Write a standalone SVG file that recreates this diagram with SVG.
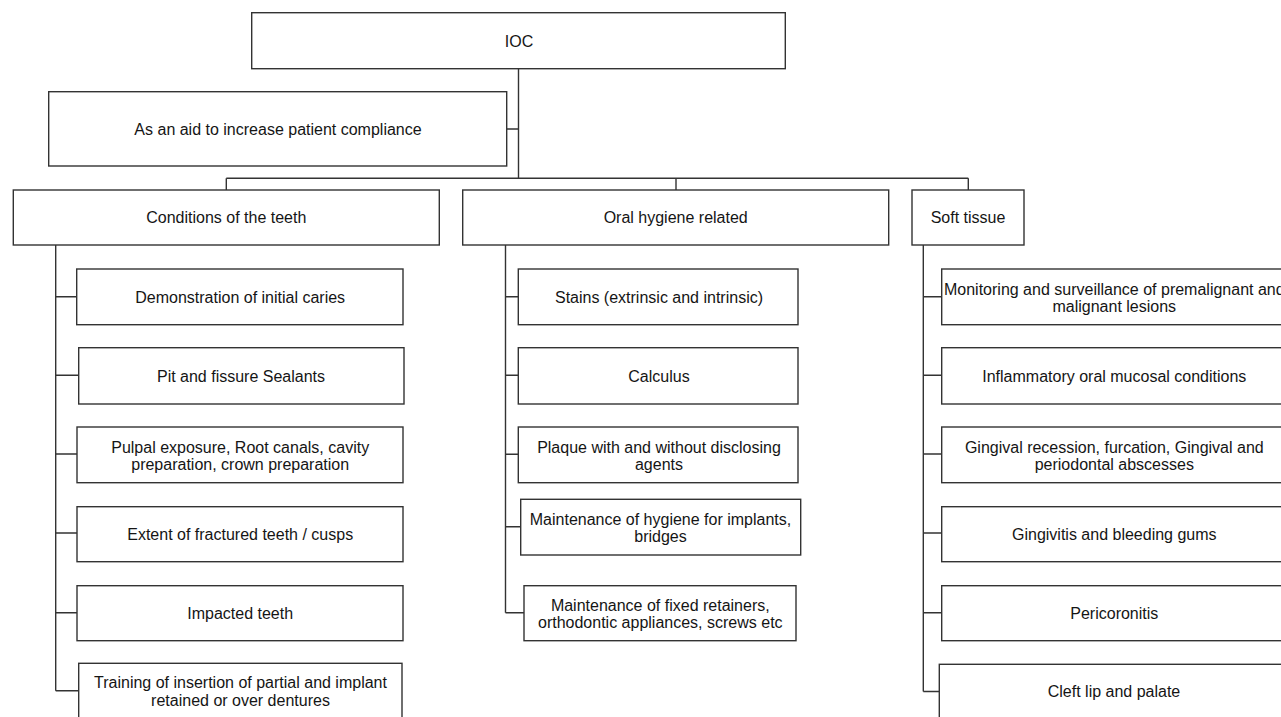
<svg xmlns="http://www.w3.org/2000/svg" width="1281" height="717" viewBox="0 0 1281 717">
<style>
.box{fill:#fff;stroke:#333;stroke-width:1.4}
.lbl{font-family:"Liberation Sans",Arial,sans-serif;font-size:16px;fill:#151515;text-anchor:middle}
.con{fill:none;stroke:#333;stroke-width:1.4}
</style>
<rect width="1281" height="717" fill="#fff"/>
<g id="connectors">
<path class="con" d="M518.5 68.7V178.3M506.7 129H518.5M226.3 178.3H968.3M226.3 178.3V190M676 178.3V190M968.3 178.3V190"/>
<path class="con" d="M55.7 245V690.7M55.7 296.7H76.7M55.7 375.3H78.7M55.7 454H77M55.7 533H77M55.7 612.7H77M55.7 690.7H78.7"/>
<path class="con" d="M505.5 245V612.7M505.5 296.7H518.3M505.5 375.3H518.3M505.5 454.3H518.3M505.5 526.7H520.7M505.5 612.7H524"/>
<path class="con" d="M923.3 245V691.5M923.3 296.7H941.7M923.3 375.3H941.7M923.3 454H941.7M923.3 533H941.7M923.3 612.7H941.7M923.3 691.5H939.3"/>
</g>
<g id="ioc"><rect class="box" x="251.7" y="12.7" width="533.6" height="56"/><text class="lbl" x="519" y="46.5">IOC</text></g>
<g id="compliance"><rect class="box" x="48.7" y="91.7" width="458" height="74.3"/><text class="lbl" x="278" y="134.5">As an aid to increase patient compliance</text></g>
<g id="teeth"><rect class="box" x="13.3" y="190" width="426" height="55"/><text class="lbl" x="226.3" y="223">Conditions of the teeth</text></g>
<g id="hygiene"><rect class="box" x="462.7" y="190" width="426" height="55"/><text class="lbl" x="675.7" y="223">Oral hygiene related</text></g>
<g id="soft"><rect class="box" x="912" y="190" width="112" height="55"/><text class="lbl" x="968" y="223">Soft tissue</text></g>

<g id="t1"><rect class="box" x="76.7" y="269" width="326.3" height="55.7"/><text class="lbl" x="240.2" y="302.5">Demonstration of initial caries</text></g>
<g id="t2"><rect class="box" x="78.7" y="347.7" width="325.3" height="56.3"/><text class="lbl" x="241" y="381.5">Pit and fissure Sealants</text></g>
<g id="t3"><rect class="box" x="77" y="427" width="326" height="55.7"/><text class="lbl" x="240.2" y="452.5">Pulpal exposure, Root canals, cavity</text><text class="lbl" x="240.2" y="470.3">preparation, crown preparation</text></g>
<g id="t4"><rect class="box" x="77" y="506.7" width="326" height="55"/><text class="lbl" x="240.2" y="540">Extent of fractured teeth / cusps</text></g>
<g id="t5"><rect class="box" x="77" y="585.7" width="326" height="55"/><text class="lbl" x="240.2" y="619">Impacted teeth</text></g>
<g id="t6"><rect class="box" x="78.7" y="663.3" width="323.3" height="56"/><text class="lbl" x="240.5" y="687.5">Training of insertion of partial and implant</text><text class="lbl" x="240.5" y="705.5">retained or over dentures</text></g>

<g id="h1"><rect class="box" x="518.3" y="269" width="279.7" height="55.7"/><text class="lbl" x="659" y="302.5">Stains (extrinsic and intrinsic)</text></g>
<g id="h2"><rect class="box" x="518.3" y="347.7" width="279.7" height="56.3"/><text class="lbl" x="659" y="381.5">Calculus</text></g>
<g id="h3"><rect class="box" x="518.3" y="427" width="279.7" height="55.7"/><text class="lbl" x="659" y="452.5">Plaque with and without disclosing</text><text class="lbl" x="659" y="470.3">agents</text></g>
<g id="h4"><rect class="box" x="520.7" y="499.3" width="280" height="55.7"/><text class="lbl" x="660.5" y="524.5">Maintenance of hygiene for implants,</text><text class="lbl" x="660.5" y="542.3">bridges</text></g>
<g id="h5"><rect class="box" x="524" y="585.7" width="272" height="55"/><text class="lbl" x="660.3" y="610.5">Maintenance of fixed retainers,</text><text class="lbl" x="660.3" y="628.3">orthodontic appliances, screws etc</text></g>

<g id="s1"><rect class="box" x="941.7" y="269" width="346" height="55.7"/><text class="lbl" x="1114.3" y="294.5">Monitoring and surveillance of premalignant and</text><text class="lbl" x="1114.3" y="312">malignant lesions</text></g>
<g id="s2"><rect class="box" x="941.7" y="347.7" width="346" height="56.3"/><text class="lbl" x="1114.3" y="381.5">Inflammatory oral mucosal conditions</text></g>
<g id="s3"><rect class="box" x="941.7" y="427" width="346" height="55.7"/><text class="lbl" x="1114.3" y="452.5">Gingival recession, furcation, Gingival and</text><text class="lbl" x="1114.3" y="470.3">periodontal abscesses</text></g>
<g id="s4"><rect class="box" x="941.7" y="506.7" width="346" height="55"/><text class="lbl" x="1114.3" y="540">Gingivitis and bleeding gums</text></g>
<g id="s5"><rect class="box" x="941.7" y="585.7" width="346" height="55"/><text class="lbl" x="1114.3" y="619">Pericoronitis</text></g>
<g id="s6"><rect class="box" x="939.3" y="664.3" width="348" height="56"/><text class="lbl" x="1114" y="697">Cleft lip and palate</text></g>
</svg>
